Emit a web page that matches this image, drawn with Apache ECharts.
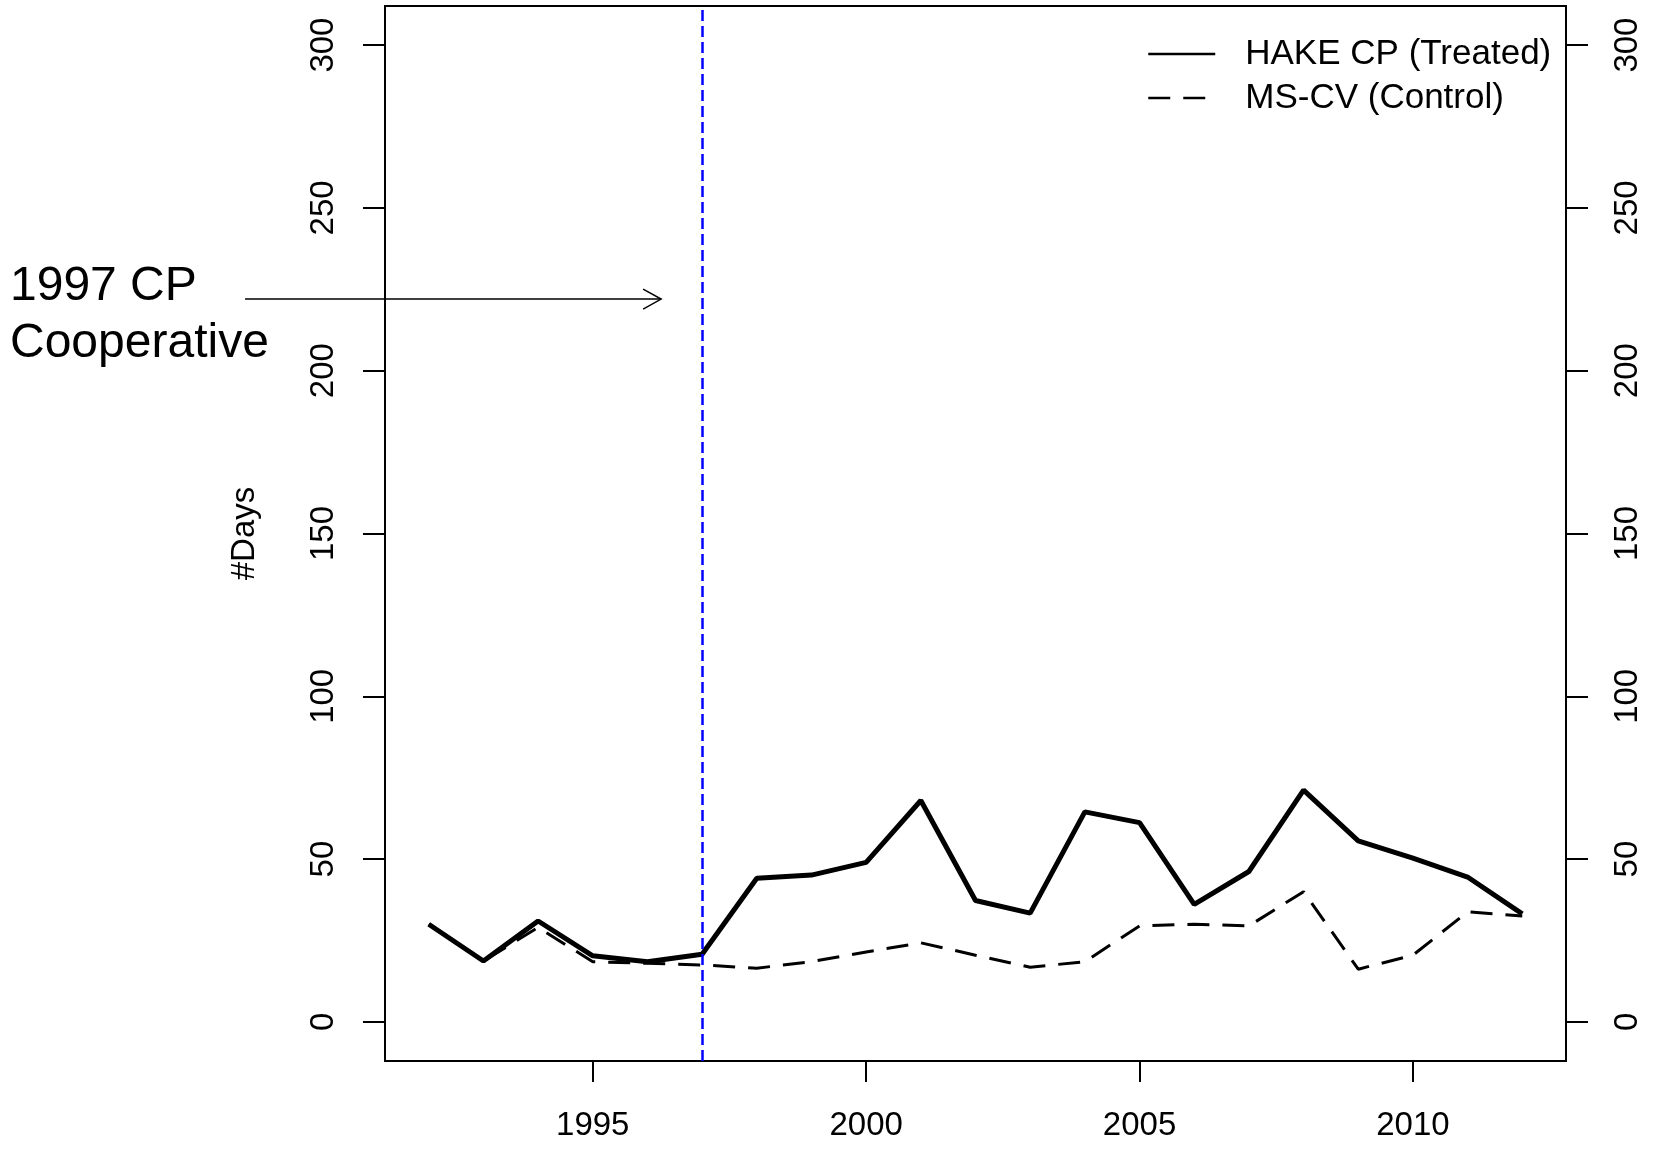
<!DOCTYPE html>
<html>
<head>
<meta charset="utf-8">
<script src="https://cdn.jsdelivr.net/npm/echarts@6/dist/echarts.min.js"></script>
<style>
  html, body { margin: 0; padding: 0; background: #fff; }
  #chart { width: 1653px; height: 1152px; }
</style>
</head>
<body>
<div id="chart"></div>
<script>
// data
var years = [1992, 1993, 1994, 1995, 1996, 1997, 1998, 1999, 2000, 2001, 2002,
             2003, 2004, 2005, 2006, 2007, 2008, 2009, 2010, 2011, 2012];
var hakeCP = [30, 18.7, 31, 20.3, 18.5, 20.8, 44.1, 45.1, 49, 68, 37.3,
              33.4, 64.5, 61.2, 36.1, 46.2, 71.2, 55.6, 50.3, 44.5, 33.2];
var msCV = [30, 18.7, 29, 18.5, 18, 17.5, 16.5, 18.5, 21.5, 24.3, 20.5,
            16.8, 18.5, 29.5, 30, 29.5, 40, 16.2, 20.5, 33.8, 32.5];
var xTicks = [1995, 2000, 2005, 2010];
var yTicks = [0, 50, 100, 150, 200, 250, 300];
var treatYear = 1997;
// arrow of the annotation, in data units (x, y)
var arrowFrom = [1988.64, 222];
var arrowTo = [1996.25, 222];

var font = "'Liberation Sans', Arial, sans-serif";

function pairs(xs, ys) {
  return xs.map(function (x, i) { return [x, ys[i]]; });
}

var Chart = echarts.init(document.getElementById('chart'));

var yAxisBase = {
  type: 'value',
  min: -12,
  max: 312,
  splitLine: { show: false },
  axisLine: { show: false, onZero: false },
  axisTick: { show: true, length: 22, customValues: yTicks,
              lineStyle: { color: '#000', width: 2 } },
  axisLabel: { customValues: yTicks, rotate: 90, margin: 45,
               color: '#000', fontSize: 33, fontFamily: font }
};

var options = {
  backgroundColor: '#fff',
  animation: false,
  grid: {
    left: 385, right: 87, top: 6, bottom: 91,
    show: true, borderColor: '#000', borderWidth: 2
  },
  legend: {
    orient: 'vertical',
    left: 1142,
    top: 31,
    align: 'left',
    itemWidth: 67,
    itemHeight: 14,
    itemGap: 8,
    itemStyle: { opacity: 0 },
    textStyle: { fontSize: 35, fontFamily: font, color: '#000',
                 lineHeight: 36, padding: [0, 0, 0, 25] },
    data: [
      { name: 'HAKE CP (Treated)', lineStyle: { width: 2.5, type: 'solid' } },
      { name: 'MS-CV (Control)', lineStyle: { width: 2.5, type: [22, 13] } }
    ]
  },
  xAxis: {
    type: 'value',
    min: 1991.2,
    max: 2012.8,
    splitLine: { show: false },
    axisLine: { show: false, onZero: false },
    axisTick: { show: true, length: 21, customValues: xTicks,
                lineStyle: { color: '#000', width: 2 } },
    axisLabel: { customValues: xTicks, margin: 48, color: '#000',
                 fontSize: 33, fontFamily: font,
                 formatter: function (v) { return String(v); } }
  },
  yAxis: [
    Object.assign({}, yAxisBase, {
      position: 'left',
      name: '#Days',
      nameLocation: 'middle',
      nameGap: 124,
      nameTextStyle: { fontSize: 33, fontFamily: font, color: '#000' }
    }),
    Object.assign({}, yAxisBase, { position: 'right' })
  ],
  series: [
    {
      name: 'HAKE CP (Treated)',
      type: 'line',
      data: pairs(years, hakeCP),
      symbol: 'none',
      lineStyle: { color: '#000', width: 5 },
      itemStyle: { color: '#000' },
      z: 3,
      markLine: {
        silent: true,
        symbol: 'none',
        label: { show: false },
        lineStyle: { color: '#0000ff', width: 2.5, type: [11, 5] },
        data: [{ xAxis: treatYear }]
      }
    },
    {
      name: 'MS-CV (Control)',
      type: 'line',
      data: pairs(years, msCV),
      symbol: 'none',
      lineStyle: { color: '#000', width: 3, type: [22, 13] },
      itemStyle: { color: '#000' },
      z: 2
    }
  ]
};
Chart.setOption(options);

// annotation on the left margin, arrow pointing at the 1997 line
var p0 = Chart.convertToPixel({ gridIndex: 0 }, arrowFrom);
var p1 = Chart.convertToPixel({ gridIndex: 0 }, arrowTo);
Chart.setOption({
  graphic: [
    { type: 'text', left: 10, top: 291 - 28,
      style: { text: '1997 CP', fontSize: 48, fontFamily: font, fill: '#000' } },
    { type: 'text', left: 10, top: 348 - 28,
      style: { text: 'Cooperative', fontSize: 48, fontFamily: font, fill: '#000' } },
    { type: 'line', shape: { x1: p0[0], y1: p0[1], x2: p1[0], y2: p1[1] },
      style: { stroke: '#000', lineWidth: 1.5 } },
    { type: 'polyline',
      shape: { points: [[p1[0] - 18, p1[1] - 10], [p1[0], p1[1]], [p1[0] - 18, p1[1] + 10]] },
      style: { stroke: '#000', lineWidth: 1.5, fill: null } }
  ]
});
</script>
</body>
</html>
